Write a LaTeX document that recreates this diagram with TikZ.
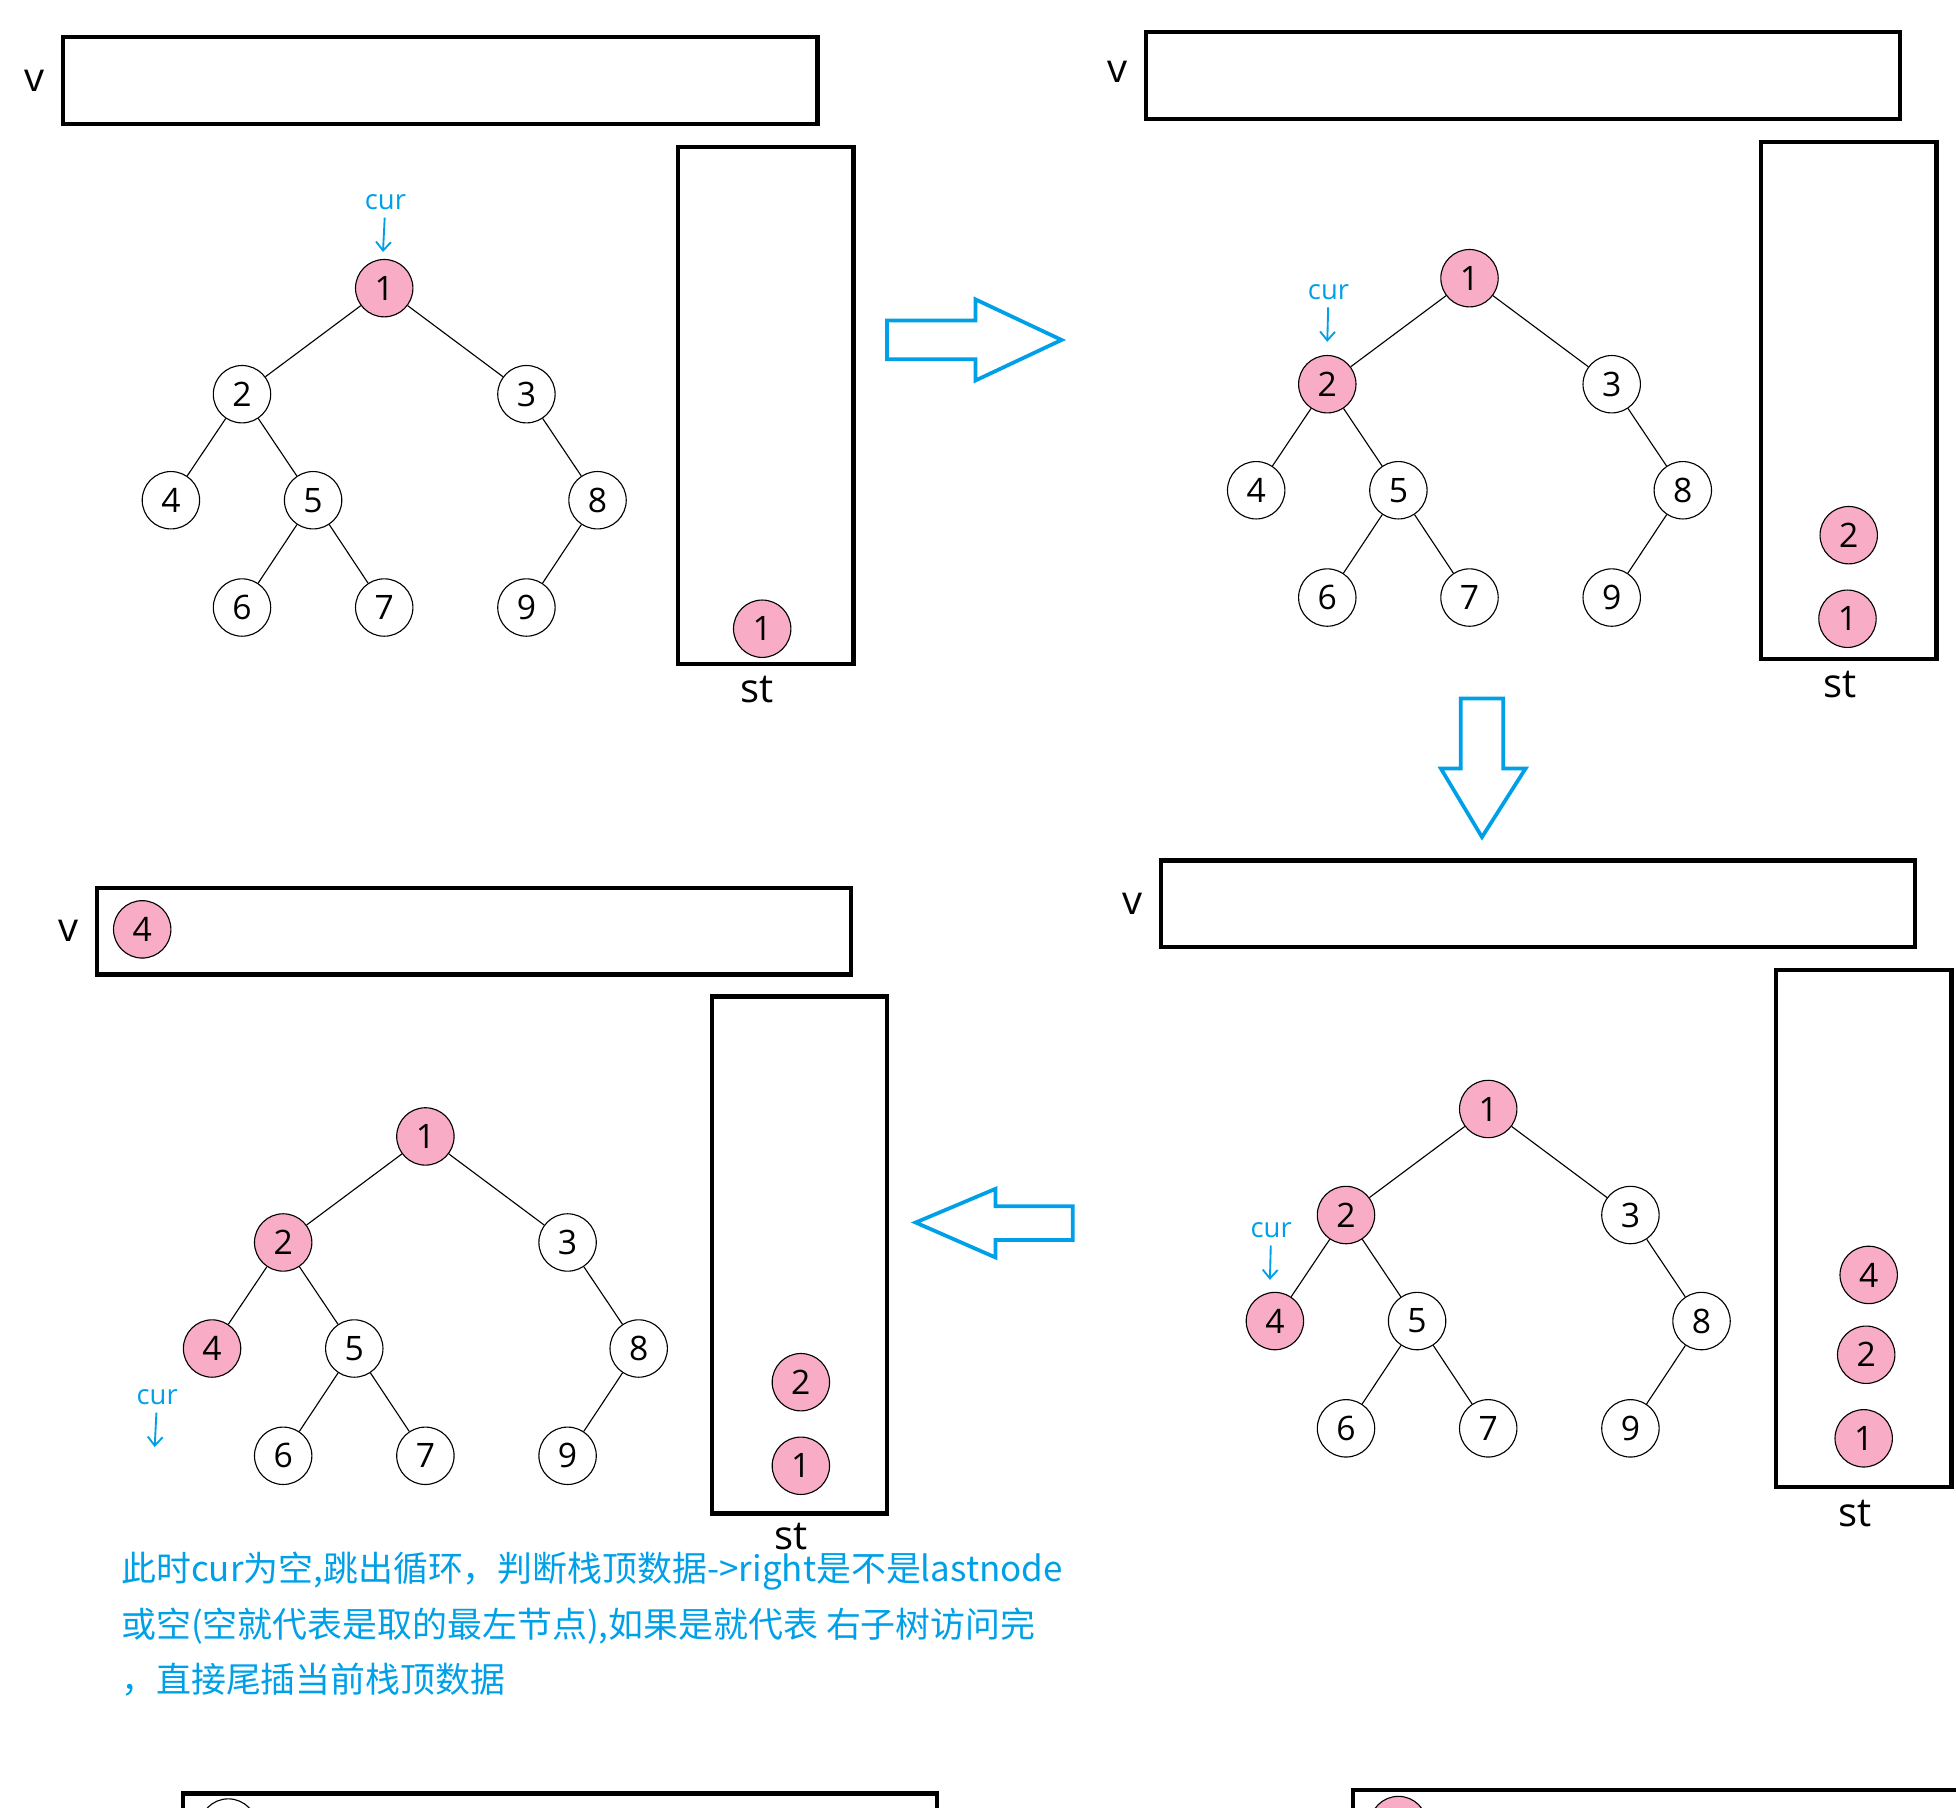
\documentclass[tikz,border=0pt]{standalone}
\usepackage{fontspec}
\setmainfont{Open Sans}
\newfontfamily\cjk{Noto Sans CJK SC}
\usepackage{tikz}
\usetikzlibrary{positioning, calc, arrows.meta}

\definecolor{curblue}{RGB}{0,160,233}
\definecolor{hotpink}{RGB}{249,172,197}

% tree: prefix, root, styles of 1, 2 and 4
\newcommand{\bintree}[5]{%
  \node[nd,#3] (#1n1) at (#2) {1};
  \node[nd,#4] (#1n2) at ($(#1n1)+(-114,85)$) {2};
  \node[nd] (#1n3) at ($(#1n1)+(114,85)$) {3};
  \node[nd,#5] (#1n4) at ($(#1n1)+(-171,170)$) {4};
  \node[nd] (#1n5) at ($(#1n1)+(-57,170)$) {5};
  \node[nd] (#1n8) at ($(#1n1)+(171,170)$) {8};
  \node[nd] (#1n6) at ($(#1n1)+(-114,256)$) {6};
  \node[nd] (#1n7) at ($(#1n1)+(0,256)$) {7};
  \node[nd] (#1n9) at ($(#1n1)+(114,256)$) {9};
  \foreach \a/\b in {1/2,1/3,2/4,2/5,3/8,5/6,5/7,8/9}
    \draw[edge] (#1n\a) -- (#1n\b);
}

\begin{document}
\begin{tikzpicture}[
  x=1pt, y=-1pt,
  nd/.style={circle, draw, line width=0.9pt, fill=white, minimum size=46pt, inner sep=0pt,
    font=\fontsize{27}{27}\selectfont},
  hot/.style={fill=hotpink},
  edge/.style={line width=0.9pt},
  vbox/.style={draw, line width=3.5pt, anchor=north west, inner sep=0pt,
    minimum width=604.5pt, minimum height=69.5pt},
  stbox/.style={draw, line width=3.5pt, anchor=north west, inner sep=0pt,
    minimum width=140.5pt, minimum height=414.5pt},
  lbl/.style={inner sep=0pt, font=\fontsize{32}{32}\selectfont},
  curlbl/.style={inner sep=2pt, text=curblue, font=\fontsize{22}{22}\selectfont},
  curarr/.style={draw=curblue, line width=1.5pt, shorten <=4pt, -{Straight Barb[length=7pt, width=12pt]}},
  bigarr/.style={draw=curblue, line width=3pt, fill=white},
  note/.style={anchor=base west, inner sep=0pt, text=curblue, font=\cjk\fontsize{28}{30}\selectfont}
]
  \useasboundingbox (0,0) rectangle (1568,1449);
  \clip (0,0) rectangle (1568,1449);

  % step 1
  \node[vbox] (v1) at (49,28) {};
  \node[lbl, left=13pt of v1] (v1l) {v};
  \node[stbox] (st1) at (542,116) {};
  \node[lbl, below=8pt of st1, xshift=-7pt] (st1l) {st};
  \bintree{a}{308,231}{hot}{}{}
  \node[curlbl, anchor=base] (cur1) at (309,168) {cur};
  \coordinate (cur1e) at (307,202);
  \draw[curarr] (cur1) -- (cur1e);
  \node[nd, hot] (s1a) at (611,504) {1};

  \draw[bigarr] (711,257) -- (782,257) -- (782,240) -- (851,272.5) -- (782,305)
    -- (782,288) -- (711,288) -- cycle;

  % step 2
  \node[vbox] (v2) at (917,24) {};
  \node[lbl, left=13pt of v2, yshift=3pt] (v2l) {v};
  \node[stbox] (st2) at (1410,112) {};
  \node[lbl, below=8pt of st2, xshift=-7pt] (st2l) {st};
  \bintree{b}{1178,223}{hot}{hot}{}
  \node[curlbl, anchor=base] (cur2) at (1065,240) {cur};
  \coordinate (cur2e) at (1064,274);
  \draw[curarr] (cur2) -- (cur2e);
  \node[nd, hot] (s2b) at (1482,429) {2};
  \node[nd, hot] (s2a) at (1481,496) {1};

  \draw[bigarr] (1171,560) -- (1205,560) -- (1205,616) -- (1223,616) -- (1188,671)
    -- (1155,616) -- (1171,616) -- cycle;

  % step 3
  \node[vbox] (v3) at (929,688) {};
  \node[lbl, left=13pt of v3] (v3l) {v};
  \node[stbox] (st3) at (1422,776) {};
  \node[lbl, below=8pt of st3, xshift=-7pt] (st3l) {st};
  \bintree{c}{1193,889}{hot}{hot}{hot}
  \node[curlbl, anchor=base] (cur3) at (1019,992) {cur};
  \coordinate (cur3e) at (1018,1026);
  \draw[curarr] (cur3) -- (cur3e);
  \node[nd, hot] (s3c) at (1498,1022) {4};
  \node[nd, hot] (s3b) at (1496,1086) {2};
  \node[nd, hot] (s3a) at (1494,1153) {1};

  \draw[bigarr] (860,967) -- (798,967) -- (798,953) -- (734,980) -- (798,1008)
    -- (798,994) -- (860,994) -- cycle;

  % step 4
  \node[vbox] (v4) at (76,710) {};
  \node[lbl, left=13pt of v4] (v4l) {v};
  \node[nd, hot] (v4a) at (114,745) {4};
  \node[stbox] (st4) at (569,797) {};
  \node[lbl, below=6pt of st4, xshift=-7pt] (st4l) {st};
  \bintree{d}{341,911}{hot}{hot}{hot}
  \node[curlbl, anchor=base] (cur4) at (126,1126) {cur};
  \coordinate (cur4e) at (124,1160);
  \draw[curarr] (cur4) -- (cur4e);
  \node[nd, hot] (s4b) at (642,1108) {2};
  \node[nd, hot] (s4a) at (642,1175) {1};

  \node[note] (txt1) at (97,1268) {此时cur为空,跳出循环，判断栈顶数据->right是不是lastnode};
  \node[note] (txt2) at (97,1313) {或空(空就代表是取的最左节点),如果是就代表 右子树访问完};
  \node[note] (txt3) at (97,1357) {，直接尾插当前栈顶数据};

  % next steps, cut off
  \node[vbox] (v5) at (145,1436) {};
  \node[nd] (v5a) at (183,1465) {};
  \node[vbox] (v6) at (1083,1433) {};
  \node[nd, hot] (v6a) at (1121,1463) {};
\end{tikzpicture}
\end{document}
